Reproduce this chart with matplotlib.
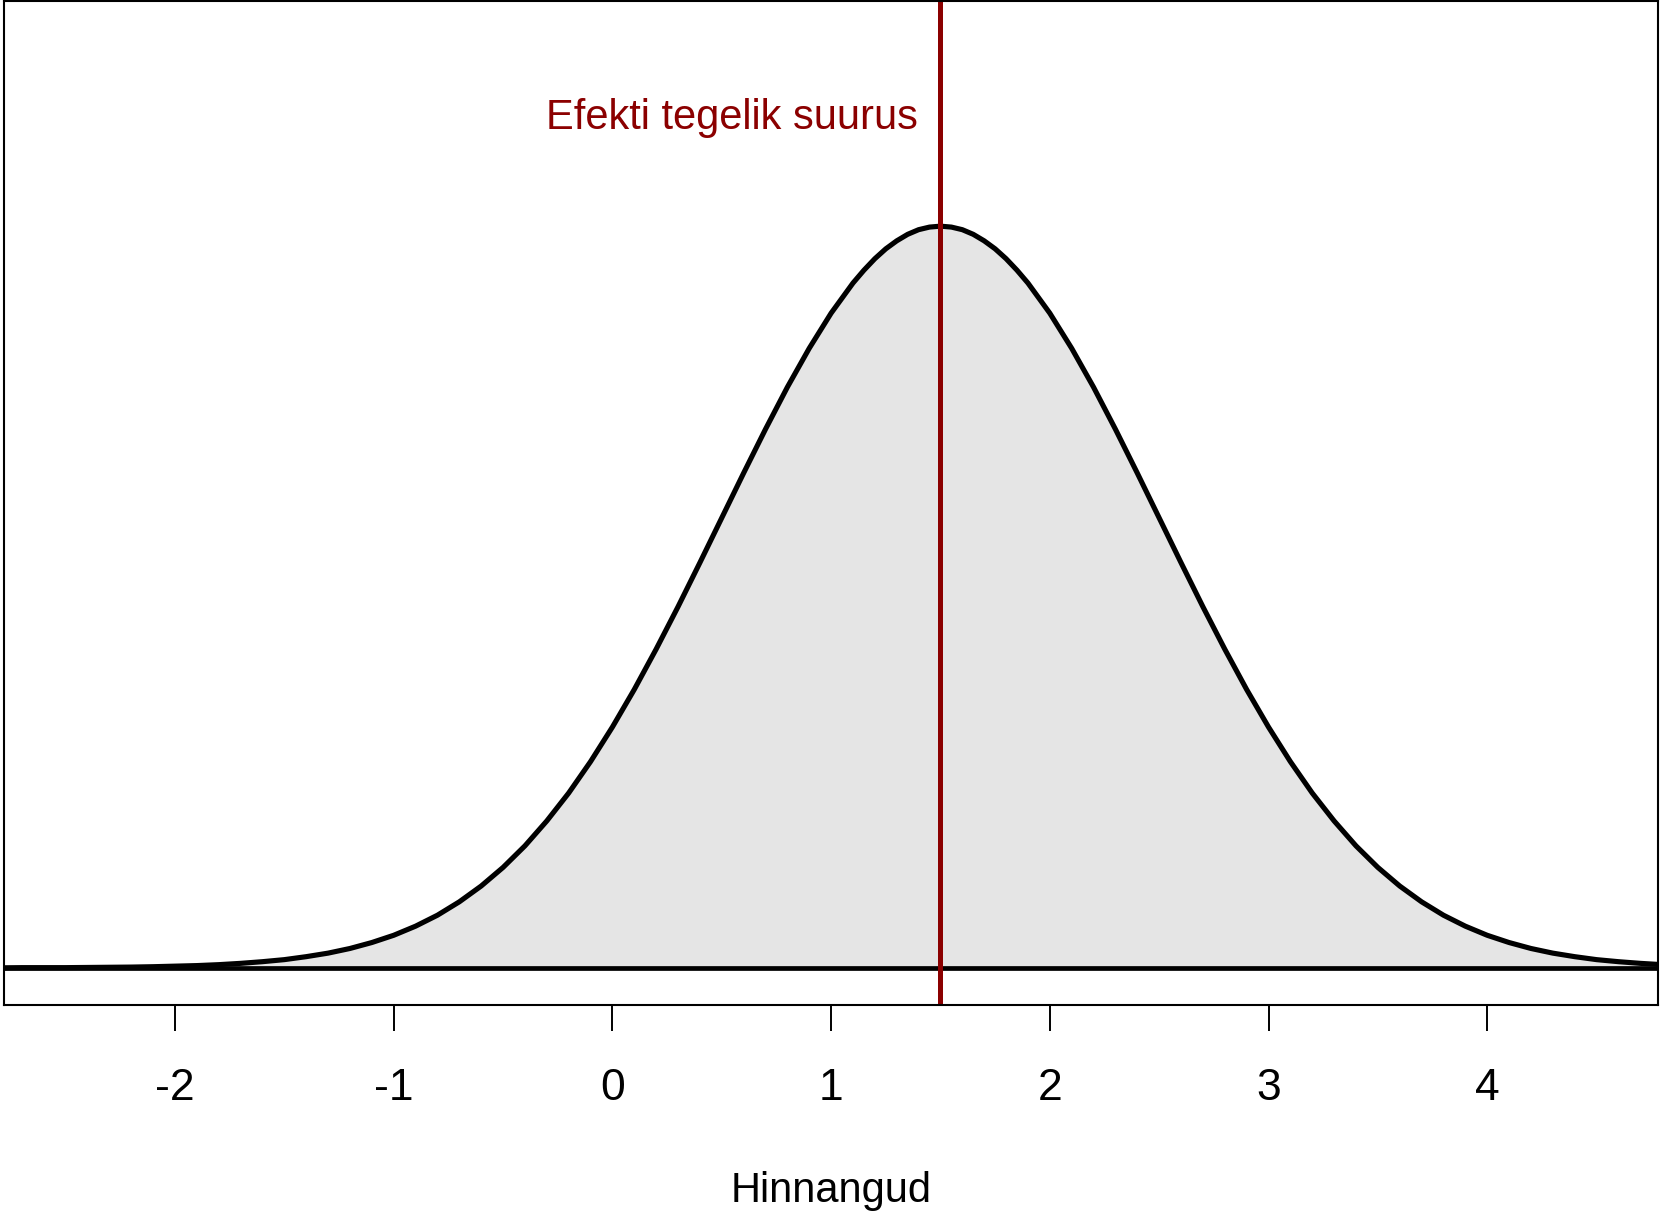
import matplotlib
matplotlib.use("Agg")
import matplotlib.pyplot as plt

# ------------ Data --------------------------------------
x_vals = [-2.8, -2.7, -2.6, -2.5, -2.4, -2.3, -2.2, -2.1, -2.0, -1.9,
          -1.8, -1.7, -1.6, -1.5, -1.4, -1.3, -1.2, -1.1, -1.0, -0.9,
          -0.8, -0.7, -0.6, -0.5, -0.4, -0.3, -0.2, -0.1, 0.0, 0.1,
          0.2, 0.3, 0.4, 0.5, 0.6, 0.7, 0.8, 0.9, 1.0, 1.1, 1.15,
          1.2, 1.25, 1.3, 1.35, 1.4, 1.45, 1.5, 1.55, 1.6, 1.65, 1.7, 1.75,
          1.8, 1.85, 1.9, 2.0, 2.1,
          2.2, 2.3, 2.4, 2.5, 2.6, 2.7, 2.8, 2.9, 3.0, 3.1,
          3.2, 3.3, 3.4, 3.5, 3.6, 3.7, 3.8, 3.9, 4.0, 4.1,
          4.2, 4.3, 4.4, 4.5, 4.6, 4.7, 4.8]
density = [0.0000, 0.0001, 0.0001, 0.0001, 0.0002, 0.0003, 0.0004, 0.0006, 0.0009, 0.0012,
           0.0017, 0.0024, 0.0033, 0.0044, 0.0060, 0.0079, 0.0104, 0.0136, 0.0175, 0.0224,
           0.0283, 0.0355, 0.0440, 0.0540, 0.0656, 0.0790, 0.0940, 0.1109, 0.1295, 0.1497,
           0.1714, 0.1942, 0.2179, 0.2420, 0.2661, 0.2897, 0.3123, 0.3332, 0.3521, 0.3683, 0.3752,
           0.3814, 0.3867, 0.3910, 0.3945, 0.3970, 0.3984, 0.3989, 0.3984, 0.3970, 0.3945, 0.3910, 0.3867,
           0.3814, 0.3752, 0.3683, 0.3521, 0.3332,
           0.3123, 0.2897, 0.2661, 0.2420, 0.2179, 0.1942, 0.1714, 0.1497, 0.1295, 0.1109,
           0.0940, 0.0790, 0.0656, 0.0540, 0.0440, 0.0355, 0.0283, 0.0224, 0.0175, 0.0136,
           0.0104, 0.0079, 0.0060, 0.0044, 0.0033, 0.0024, 0.0017]

TRUE_EFFECT = 1.5
x_ticks = [-2, -1, 0, 1, 2, 3, 4]
label_text = "Efekti tegelik suurus"
x_label = "Hinnangud"

plt.rcParams["font.family"] = ["Liberation Sans", "DejaVu Sans"]

fig = plt.figure(figsize=(16.6, 12.12), dpi=100)
ax = fig.add_axes([4 / 1660, 207 / 1212, 1654 / 1660, 1004 / 1212])

# filled density
ax.fill_between(x_vals, 0, density, color="#e5e5e5", linewidth=0)
ax.plot(x_vals, density, color="black", linewidth=3.7, solid_joinstyle="round")
ax.axhline(0, color="black", linewidth=3.4)

# true effect line + label
ax.axvline(TRUE_EFFECT, color="#8b0000", linewidth=3.6)
ax.text(1.397, 0.4514, label_text, color="#8b0000", fontsize=30,
        ha="right", va="baseline")

ax.set_xlim(-2.782, 4.781)
ax.set_ylim(-0.02, 0.52)
ax.set_yticks([])
ax.set_xticks(x_ticks)
ax.set_xticklabels([str(t) for t in x_ticks])
ax.tick_params(axis="x", direction="out", length=18.7, width=1.4,
               pad=27, labelsize=32)
for s in ax.spines.values():
    s.set_linewidth(1.5)

fig.text(0.5006, 1 - 1202 / 1212, x_label, fontsize=30,
         ha="center", va="baseline")

fig.savefig("out.png", dpi=100)
